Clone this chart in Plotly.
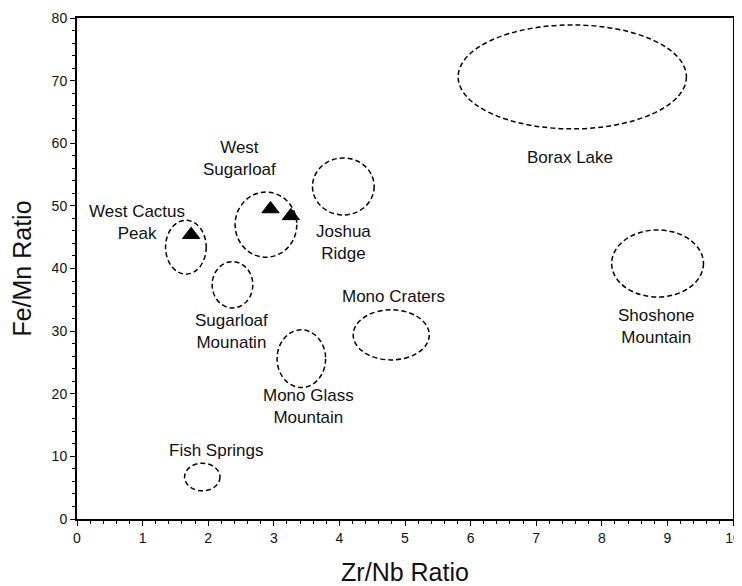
import plotly.graph_objects as go

# Source fields (ellipses): centre and half-widths in data units
fields = ["Borax Lake", "Shoshone Mountain", "Mono Craters", "Mono Glass Mountain",
          "Fish Springs", "West Cactus Peak", "West Sugarloaf", "Joshua Ridge",
          "Sugarloaf Mounatin"]
cx = [7.55, 8.85, 4.79, 3.42, 1.91, 1.66, 2.88, 4.06, 2.37]
cy = [70.6, 40.8, 29.4, 25.6, 6.7, 43.4, 47.0, 53.1, 37.4]
rx = [1.74, 0.70, 0.58, 0.37, 0.27, 0.31, 0.47, 0.47, 0.31]
ry = [8.3, 5.35, 4.0, 4.6, 2.2, 4.3, 5.2, 4.55, 3.7]

# Labels
label_text = ["Borax Lake", "Shoshone<br>Mountain", "Mono Craters", "Mono Glass<br>Mountain",
              "Fish Springs", "West Cactus<br>Peak", "West<br>Sugarloaf", "Joshua<br>Ridge",
              "Sugarloaf<br>Mounatin"]
label_x = [7.52, 8.83, 4.82, 3.53, 2.12, 0.92, 2.47, 4.06, 2.36]
label_y = [57.8, 30.7, 35.6, 17.9, 11.0, 47.4, 57.5, 44.2, 30.0]

# Artifact samples (triangles)
sample_x = [1.74, 2.95, 3.26]
sample_y = [45.4, 49.5, 48.4]

x_ticks = [0, 1, 2, 3, 4, 5, 6, 7, 8, 9, 10]
y_ticks = [0, 10, 20, 30, 40, 50, 60, 70, 80]

FONT = "Liberation Sans, Arial"

fig = go.Figure()

fig.add_trace(go.Scatter(
    x=sample_x, y=sample_y, mode="markers",
    marker=dict(symbol="triangle-up", size=15, color="black",
                line=dict(color="black", width=1)),
    showlegend=False, hoverinfo="skip"))

for i in range(len(fields)):
    fig.add_shape(type="circle", xref="x", yref="y",
                  x0=cx[i] - rx[i], x1=cx[i] + rx[i],
                  y0=cy[i] - ry[i], y1=cy[i] + ry[i],
                  line=dict(color="black", width=1.5, dash="5px,3px"))

for i in range(len(label_text)):
    fig.add_annotation(x=label_x[i], y=label_y[i], text=label_text[i],
                       showarrow=False, xref="x", yref="y",
                       font=dict(family=FONT, size=17, color="#111"),
                       align="center")

axis_common = dict(
    showgrid=False, zeroline=False, showline=True, linecolor="black", linewidth=2,
    mirror=True, ticks="outside", ticklen=5, tickwidth=1, tickcolor="black",
    tickfont=dict(family=FONT, size=14, color="#111"), automargin=False,
)

fig.update_xaxes(range=[0, 10], tickvals=x_ticks, ticktext=[str(v) for v in x_ticks],
                 minor=dict(ticks="outside", ticklen=3, dtick=0.2, tickcolor="black"),
                 title=dict(text="Zr/Nb Ratio", font=dict(family=FONT, size=25, color="#111"),
                            standoff=20),
                 **axis_common)
fig.update_yaxes(range=[0, 80], tickvals=y_ticks, ticktext=[str(v) for v in y_ticks],
                 minor=dict(ticks="outside", ticklen=3, dtick=2, tickcolor="black"),
                 title=dict(text="Fe/Mn Ratio", font=dict(family=FONT, size=25, color="#111"),
                            standoff=14),
                 **axis_common)

# The page body adds an 8px offset, so the figure is 8px smaller than the window
fig.update_layout(
    width=734, height=578,
    margin=dict(l=69, r=9, t=10, b=67),
    paper_bgcolor="white", plot_bgcolor="white",
    showlegend=False,
)

fig.write_html("out.html")
